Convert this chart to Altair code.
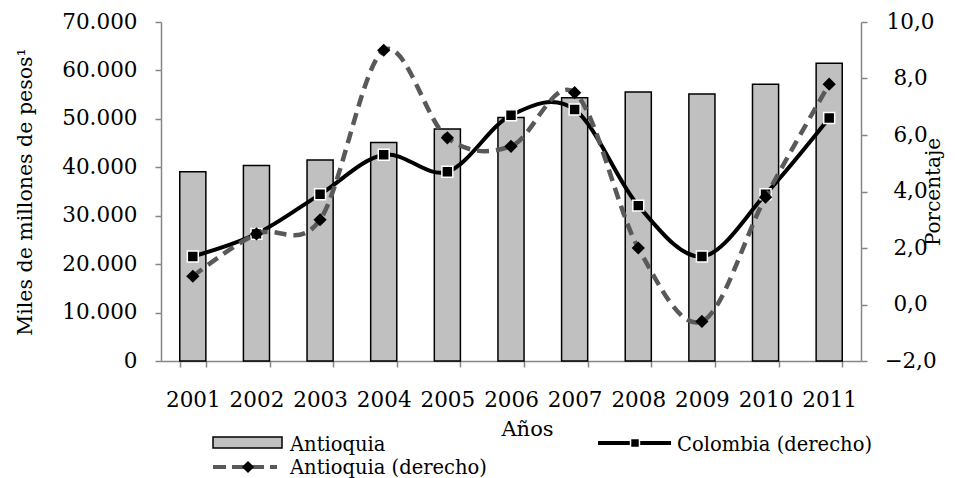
import altair as alt
import pandas as pd

anos = ["2001", "2002", "2003", "2004", "2005", "2006", "2007", "2008", "2009", "2010", "2011"]
pib_antioquia = [39100, 40350, 41500, 45100, 47900, 50300, 54350, 55550, 55150, 57150, 61500]
crec_colombia = [1.7, 2.5, 3.9, 5.3, 4.7, 6.7, 6.9, 3.5, 1.7, 3.9, 6.6]
crec_antioquia = [1.0, 2.5, 3.0, 9.0, 5.9, 5.6, 7.5, 2.0, -0.6, 3.8, 7.8]
left_ticks = [0, 10000, 20000, 30000, 40000, 50000, 60000, 70000]
right_ticks = [-2, 0, 2, 4, 6, 8, 10]

FONT = "DejaVu Serif"
AX = "#868686"
LEG_FS = 19.5

df_bar = pd.DataFrame({"anio": anos, "pib": pib_antioquia})
df_pct = pd.DataFrame({
    "anio": anos * 2,
    "pct": crec_colombia + crec_antioquia,
    "serie": ["Colombia (derecho)"] * len(anos) + ["Antioquia (derecho)"] * len(anos),
})

x_enc = alt.X(
    "anio:N",
    sort=anos,
    scale=alt.Scale(paddingInner=0.59, paddingOuter=0.295),
    axis=alt.Axis(
        title="Años", labelAngle=0, tickBand="extent", tickSize=6,
        labelPadding=22, labelFontSize=21.5, titleFontSize=21,
        titleX=366, titleY=74, titleBaseline="alphabetic", titleAlign="center",
    ),
)

bars = alt.Chart(df_bar).mark_bar(fill="#c0c0c0", stroke="black", strokeWidth=1.5).encode(
    x=x_enc,
    y=alt.Y(
        "pib:Q",
        scale=alt.Scale(domain=[0, 70000], nice=False),
        axis=alt.Axis(
            title="Miles de millones de pesos¹", values=left_ticks, format=",d",
            tickSize=6, labelPadding=18, labelFontSize=21.5, titleFontSize=20.5,
            titleAngle=270, titleX=-136, titleY=169.5, titleAlign="center",
            titleBaseline="middle",
        ),
    ),
)

y_right = alt.Y(
    "pct:Q",
    scale=alt.Scale(domain=[-2, 10], nice=False),
    axis=alt.Axis(
        title="Porcentaje", orient="right", values=right_ticks, format=".1f",
        tickSize=6, labelPadding=43, labelAlign="center", labelFontSize=21.5,
        titleFontSize=20, titleAngle=270, titleX=72, titleY=169.5,
        titleAlign="center", titleBaseline="middle",
    ),
)

base_pct = alt.Chart(df_pct)
col_line = base_pct.transform_filter(alt.datum.serie == "Colombia (derecho)").mark_line(
    color="black", strokeWidth=4, interpolate="cardinal", tension=0
).encode(x=x_enc, y=y_right)
col_pts = base_pct.transform_filter(alt.datum.serie == "Colombia (derecho)").mark_point(
    shape="square", filled=True, fill="black", stroke="white", strokeWidth=1.5,
    size=120, opacity=1
).encode(x=x_enc, y=y_right)
ant_line = base_pct.transform_filter(alt.datum.serie == "Antioquia (derecho)").mark_line(
    color="#595959", strokeWidth=4.5, strokeDash=[12, 7], interpolate="cardinal", tension=0
).encode(x=x_enc, y=y_right)
ant_pts = base_pct.transform_filter(alt.datum.serie == "Antioquia (derecho)").mark_point(
    shape="diamond", filled=True, fill="black", size=175, opacity=1, strokeWidth=0
).encode(x=x_enc, y=y_right)

lines = alt.layer(col_line, col_pts, ant_line, ant_pts)

# legend (drawn manually)
one = pd.DataFrame({"k": [0]})
lg = alt.Chart(one)
leg_bar = lg.mark_rect(fill="#c0c0c0", stroke="black", strokeWidth=1.5).encode(
    x=alt.value(52), x2=alt.value(121), y=alt.value(415), y2=alt.value(426))
leg_bar_t = lg.mark_text(text="Antioquia", align="left", baseline="alphabetic",
                         font=FONT, fontSize=LEG_FS, color="black").encode(
    x=alt.value(129), y=alt.value(429))
leg_col = lg.mark_rule(color="black", strokeWidth=4).encode(
    x=alt.value(437), x2=alt.value(510), y=alt.value(421))
leg_col_p = lg.mark_point(shape="square", filled=True, fill="black", stroke="white",
                          strokeWidth=1.5, size=80, opacity=1).encode(
    x=alt.value(474), y=alt.value(421))
leg_col_t = lg.mark_text(text="Colombia (derecho)", align="left", baseline="alphabetic",
                         font=FONT, fontSize=LEG_FS, color="black").encode(
    x=alt.value(516), y=alt.value(429))
leg_ant = lg.mark_rule(color="#595959", strokeWidth=4, strokeDash=[13, 6]).encode(
    x=alt.value(52), x2=alt.value(116), y=alt.value(445))
leg_ant_p = lg.mark_point(shape="diamond", filled=True, fill="black", size=150,
                          opacity=1, strokeWidth=0).encode(
    x=alt.value(87), y=alt.value(445))
leg_ant_t = lg.mark_text(text="Antioquia (derecho)", align="left", baseline="alphabetic",
                         font=FONT, fontSize=LEG_FS, color="black").encode(
    x=alt.value(129), y=alt.value(452))

chart = alt.layer(
    bars, lines,
    leg_bar, leg_bar_t, leg_col, leg_col_p, leg_col_t, leg_ant, leg_ant_p, leg_ant_t,
).resolve_scale(y="independent").properties(
    width=700, height=339,
    autosize=alt.AutoSizeParams(type="none"),
    padding={"left": 153, "top": 14, "right": 86, "bottom": 117},
).configure(
    locale={"number": {"decimal": ",", "thousands": ".", "grouping": [3], "currency": ["$", ""]}},
).configure_view(stroke=None).configure_axis(
    labelFont=FONT, titleFont=FONT, labelColor="black", titleColor="black",
    titleFontWeight="normal", domainColor=AX, tickColor=AX, domainWidth=1.5,
    tickWidth=1.5, grid=False,
)

chart.save("out.html", embed_options={"renderer": "svg", "actions": False})
